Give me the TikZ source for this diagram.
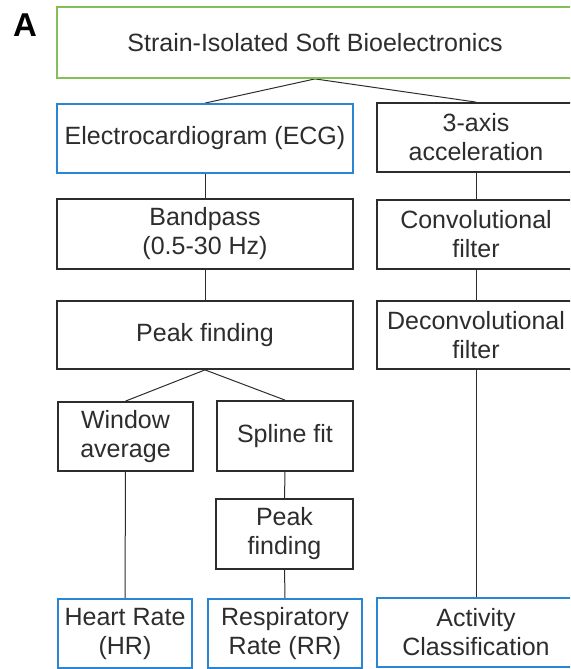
\documentclass[tikz,border=0pt]{standalone}
\usepackage{fontspec}
\setmainfont{Liberation Sans}
\usepackage{tikz}
\pgfdeclarelayer{edgelayer}
\pgfdeclarelayer{nodelayer}
\pgfsetlayers{edgelayer,nodelayer,main}
\definecolor{leafgreen}{RGB}{132,192,88}
\definecolor{signalblue}{RGB}{42,134,212}
\definecolor{inkgray}{RGB}{45,45,45}
\tikzstyle{panel}=[inner sep=0pt,font=\fontsize{33}{33}\selectfont\bfseries]
\tikzstyle{stage}=[rectangle,fill=white,draw=inkgray,line width=1.8pt,inner sep=0pt,align=center,text=inkgray,font=\fontsize{25}{29}\selectfont]
\tikzstyle{source}=[stage,draw=leafgreen]
\tikzstyle{outcome}=[stage,draw=signalblue]
\tikzstyle{link}=[draw=inkgray,line width=1pt]

\begin{document}
\begin{tikzpicture}[x=1pt,y=-1pt]
	\useasboundingbox (0,0) rectangle (570,669);
	\begin{pgfonlayer}{nodelayer}
		\clip (0,0) rectangle (570,669);
		\node [style=panel] (A) at (25, 25) {A};
		\node [style=source, minimum width=516, minimum height=71] (0) at (315, 42.5) {Strain-Isolated Soft Bioelectronics};
		\node [style=outcome, minimum width=296, minimum height=69] (1) at (205, 138.5) {Electrocardiogram (ECG)};
		\node [style=stage, minimum width=198, minimum height=69] (2) at (476, 137.5) {3-axis\\acceleration};
		\node [style=stage, minimum width=296, minimum height=70] (3) at (205, 234) {Bandpass\\(0.5-30 Hz)};
		\node [style=stage, minimum width=198, minimum height=69] (4) at (476, 234.5) {Convolutional\\filter};
		\node [style=stage, minimum width=296, minimum height=68] (5) at (205, 335) {Peak finding};
		\node [style=stage, minimum width=198, minimum height=68] (6) at (476, 335) {Deconvolutional\\filter};
		\node [style=stage, minimum width=135, minimum height=69] (7) at (125.5, 436.5) {Window\\average};
		\node [style=stage, minimum width=136, minimum height=70] (8) at (285, 436) {Spline fit};
		\node [style=stage, minimum width=137, minimum height=70] (9) at (284.5, 534) {Peak\\finding};
		\node [style=outcome, minimum width=134, minimum height=69] (10) at (125, 633.5) {Heart Rate\\(HR)};
		\node [style=outcome, minimum width=154, minimum height=69] (11) at (285, 633.5) {Respiratory\\Rate (RR)};
		\node [style=outcome, minimum width=198, minimum height=69] (12) at (476, 632.5) {Activity\\Classification};
	\end{pgfonlayer}
	\begin{pgfonlayer}{edgelayer}
		\clip (0,0) rectangle (570,669);
		\draw [style=link] (0.south) to (1.north);
		\draw [style=link] (0.south) to (2.north);
		\draw [style=link] (1) to (3);
		\draw [style=link] (3) to (5);
		\draw [style=link] (2) to (4);
		\draw [style=link] (4) to (6);
		\draw [style=link] (6) to (12);
		\draw [style=link] (5.south) to (7.north);
		\draw [style=link] (5.south) to (8.north);
		\draw [style=link] (7) to (10);
		\draw [style=link] (8) to (9);
		\draw [style=link] (9) to (11);
	\end{pgfonlayer}
\end{tikzpicture}
\end{document}
